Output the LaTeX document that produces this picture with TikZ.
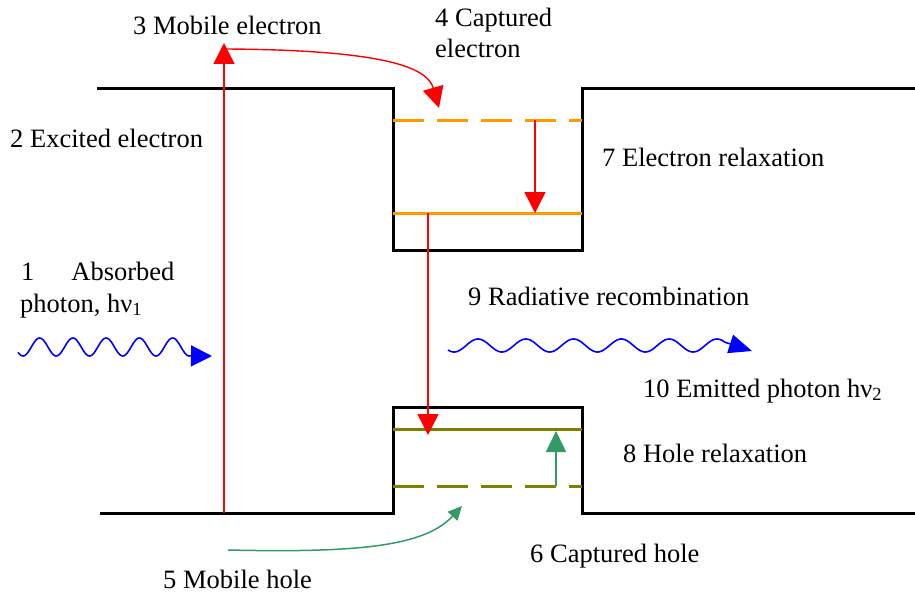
\documentclass[tikz,border=0pt]{standalone}
\usepackage{fontspec}
\setmainfont{Liberation Serif}
\usetikzlibrary{arrows.meta}
\definecolor{orangeC}{RGB}{255,153,0}
\definecolor{oliveC}{RGB}{128,128,0}
\definecolor{greenC}{RGB}{51,153,102}
\begin{document}
\begin{tikzpicture}[x=1pt,y=-1pt,
  band/.style={line width=3pt, black, line join=miter},
  elev/.style={line width=3pt, orangeC},
  hlev/.style={line width=3pt, oliveC},
  dashlev/.style={dash pattern=on 31pt off 13pt},
  redarrow/.style={red, line width=1.4pt, -{Triangle[length=21pt,width=21pt]}},
  greenarrow/.style={greenC, line width=1.5pt, -{Triangle[length=21pt,width=20pt]}},
  photon/.style={blue, line width=1.6pt, line join=round},
  lbl/.style={font=\fontsize{26.5}{31}\selectfont, inner sep=0pt, anchor=base west}
]
\useasboundingbox (0,0) rectangle (915,594);

% bands
\draw[band] (97,88) -- (393,88) -- (393,250) -- (582,250) -- (582,88) -- (915,88);
\draw[band] (100,513) -- (393,513) -- (393,407) -- (582,407) -- (582,513) -- (915,513);

% levels
\draw[elev, dashlev] (393,120) -- (582,120);
\draw[elev] (393,213) -- (582,213);
\draw[hlev] (393,429) -- (582,429);
\draw[hlev, dashlev] (393,486) -- (582,486);

% named points
\coordinate (vb) at (224,513);
\coordinate (top) at (224,43);
\coordinate (cs) at (226,49);
\coordinate (ce) at (439,108);
\coordinate (e1) at (535,120);
\coordinate (e0) at (535,213);
\coordinate (r0) at (428,213);
\coordinate (r1) at (428,435);
\coordinate (h0) at (556,486);
\coordinate (h1) at (556,431);
\coordinate (ms) at (228,550);
\coordinate (me) at (462,506);

% arrows
\draw[redarrow] (vb) -- (top);
\draw[redarrow] (cs) .. controls (395,50) and (428,70) .. (ce);
\draw[redarrow] (e1) -- (e0);
\draw[redarrow] (r0) -- (r1);
\draw[greenarrow] (h0) -- (h1);
\draw[greenC, line width=1.5pt, -{Triangle[length=14pt,width=13pt]}] (ms) .. controls (360,553) and (425,546) .. (me);

% photons
\draw[photon, -{Triangle[length=21pt,width=21pt]}]
  plot[domain=18:190, samples=160, smooth] (\x, {347+9*cos((\x-23)*10.827)}) -- (212,356);
\draw[photon, -{Triangle[length=23pt,width=19pt]}]
  plot[domain=448:725, samples=200, smooth] (\x, {345.5-6.5*cos((\x-478)*7.531)}) -- (752,351);

% labels
\node[lbl] (t3) at (133,35) {3 Mobile electron};
\node[lbl] (t4a) at (435,27) {4 Captured};
\node[lbl] (t4b) at (435,57) {electron};
\node[lbl] (t2) at (10,147) {2 Excited electron};
\node[lbl] (t7) at (602,166) {7 Electron relaxation};
\node[lbl] (t1a) at (21,280) {1\hspace*{37pt}Absorbed};
\node[lbl] (t1b) at (20,312) {photon, hν\textsubscript{1}};
\node[lbl] (t9) at (468,305) {9 Radiative recombination};
\node[lbl] (t10) at (643,397) {10 Emitted photon hν\textsubscript{2}};
\node[lbl] (t8) at (623,462) {8 Hole relaxation};
\node[lbl] (t6) at (530,562) {6 Captured hole};
\node[lbl] (t5) at (163,588) {5 Mobile hole};
\end{tikzpicture}
\end{document}
